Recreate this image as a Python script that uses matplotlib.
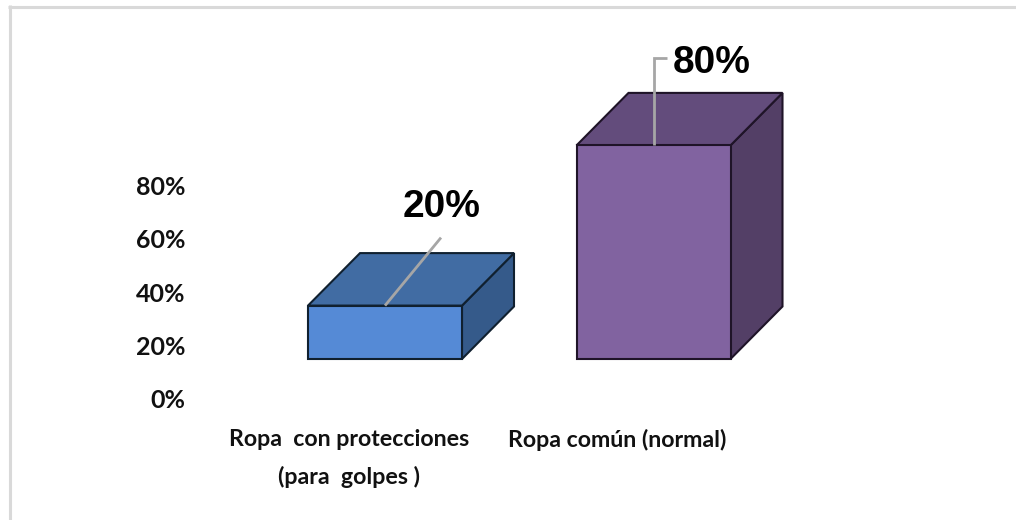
import matplotlib
matplotlib.use("Agg")
import matplotlib.pyplot as plt
from matplotlib.lines import Line2D
from matplotlib.patches import Polygon

categories = ["Ropa  con protecciones\n(para  golpes )", "Ropa común (normal)"]
values = [20, 80]
value_labels = ["20%", "80%"]
y_ticks = [0, 20, 40, 60, 80]
y_tick_labels = ["0%", "20%", "40%", "60%", "80%"]

FRONT = ["#558ad6", "#8163a0"]
TOP = ["#416ca3", "#634c7c"]
SIDE = ["#355a8a", "#533f66"]
EDGE = ["#10202f", "#1f1428"]
LEADER = "#a6a6a6"

W, H = 1016, 520
PX_PER_UNIT = 2.67  # 20% is about 53 px
AX_LEFT, AX_BOTTOM = 190, 425
ZERO_PX = 399  # where 0% sits in the image

BAR_X0 = 308
BAR_STEP = 268.5
BAR_W = 154
DEPTH_X = 52
DEPTH_Y = 52.5 / PX_PER_UNIT
FLOOR = 40 / PX_PER_UNIT  # front face starts above the 0% label
LABEL_SHIFT = -36

plt.rcParams["font.family"] = ["Lato", "DejaVu Sans"]

fig = plt.figure(figsize=(W / 100, H / 100), dpi=100)
ax = fig.add_axes([AX_LEFT / W, (H - AX_BOTTOM) / H, 1 - AX_LEFT / W, AX_BOTTOM / H])
ax.set_xlim(AX_LEFT, W)
ax.set_ylim((ZERO_PX - AX_BOTTOM) / PX_PER_UNIT, ZERO_PX / PX_PER_UNIT)
for s in ax.spines.values():
    s.set_visible(False)

centers = []
for i, v in enumerate(values):
    x0 = BAR_X0 + i * BAR_STEP
    x1 = x0 + BAR_W
    y0 = FLOOR
    y1 = FLOOR + v
    centers.append((x0 + x1) / 2)
    edge = dict(edgecolor=EDGE[i], linewidth=1.5, joinstyle="miter", clip_on=False)
    ax.add_patch(Polygon([(x1, y0), (x1 + DEPTH_X, y0 + DEPTH_Y), (x1 + DEPTH_X, y1 + DEPTH_Y), (x1, y1)],
                         facecolor=SIDE[i], **edge))
    ax.add_patch(Polygon([(x0, y1), (x0 + DEPTH_X, y1 + DEPTH_Y), (x1 + DEPTH_X, y1 + DEPTH_Y), (x1, y1)],
                         facecolor=TOP[i], **edge))
    ax.add_patch(Polygon([(x0, y0), (x1, y0), (x1, y1), (x0, y1)], facecolor=FRONT[i], **edge))

# leader lines run from the top edge of the front face up to the value label
top_20 = FLOOR + values[0]
ax.plot([centers[0], centers[0] + 56], [top_20, top_20 + 68 / PX_PER_UNIT],
        color=LEADER, lw=2, clip_on=False, solid_capstyle="butt")
top_80 = FLOOR + values[1]
ax.plot([centers[1], centers[1], centers[1] + 13],
        [top_80, top_80 + 87 / PX_PER_UNIT, top_80 + 87 / PX_PER_UNIT],
        color=LEADER, lw=2, clip_on=False, solid_joinstyle="miter", solid_capstyle="butt")

big = dict(ha="center", va="center", fontsize=28, fontweight="bold",
           family=["Liberation Sans", "DejaVu Sans"], clip_on=False)
ax.text(centers[0] + 57, top_20 + 98.5 / PX_PER_UNIT, value_labels[0], **big)
ax.text(centers[1] + 58, top_80 + 82 / PX_PER_UNIT, value_labels[1], **big)

ax.set_yticks(y_ticks)
ax.set_yticklabels(y_tick_labels, fontsize=18, fontweight="bold")
ax.set_xticks([c + LABEL_SHIFT for c in centers])
ax.set_xticklabels(categories, fontsize=16.7, fontweight="bold", linespacing=1.85)
ax.tick_params(axis="both", length=0, colors="#111111")
ax.tick_params(axis="y", pad=3)
ax.tick_params(axis="x", pad=3)

# grey frame along top and left of the picture
fig.add_artist(Line2D([9.5 / W, 9.5 / W], [0, 1 - 5 / H], color="#d9d9d9", lw=2.2, solid_capstyle="butt"))
fig.add_artist(Line2D([8 / W, 1], [1 - 6.5 / H, 1 - 6.5 / H], color="#d9d9d9", lw=2.2, solid_capstyle="butt"))

fig.savefig("out.png", dpi=100)
